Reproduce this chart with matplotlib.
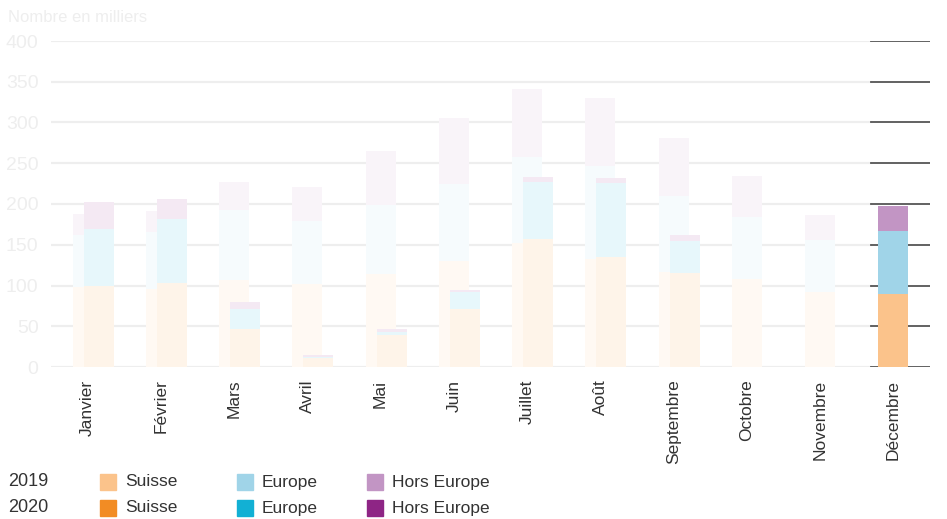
import numpy as np
import matplotlib
matplotlib.use('Agg')
import matplotlib.pyplot as plt
from matplotlib.patches import Rectangle

plt.rcParams['font.family'] = ['Liberation Sans', 'DejaVu Sans']

months = ['Janvier', 'Février', 'Mars', 'Avril', 'Mai', 'Juin', 'Juillet',
          'Août', 'Septembre', 'Octobre', 'Novembre', 'Décembre']

# nuitées en milliers, par provenance
suisse_2019 = [98, 96, 107, 102, 114, 130, 152, 132, 117, 108, 92, 90]
europe_2019 = [64, 70, 86, 77, 85, 94, 106, 115, 93, 76, 64, 77]
hors_2019 = [26, 25, 34, 42, 66, 81, 83, 83, 71, 50, 30, 30]

suisse_2020 = [99, 103, 47, 11, 39, 71, 157, 135, 115, np.nan, np.nan, np.nan]
europe_2020 = [70, 78, 24, 1, 4, 21, 70, 91, 40, np.nan, np.nan, np.nan]
hors_2020 = [33, 25, 9, 3, 4, 3, 6, 6, 7, np.nan, np.nan, np.nan]

yticks = [0, 50, 100, 150, 200, 250, 300, 350, 400]

col_2019 = ['#fbc38b', '#a0d4e8', '#c295c4']
col_2020 = ['#f28c24', '#12b0d4', '#8e2585']
highlight = 11  # Décembre mis en avant


def fade(c, a=0.1):
    rgb = np.array(matplotlib.colors.to_rgb(c))
    return tuple(1 - a * (1 - rgb))


fig = plt.figure(figsize=(9.47, 5.19), dpi=100)
ax = fig.add_axes([51 / 947, 152 / 519, 879 / 947, 326 / 519])

x = np.arange(len(months))
w = 0.41
off = 0.15

# grille
for t in yticks:
    ax.plot([-0.5, 10.69], [t, t], color='#eeeeee', lw=1.6, zorder=0)
    ax.plot([10.69, 11.5], [t, t], color='#555555', lw=1.3, zorder=0)

# 2019
bottom = np.zeros(len(months))
for vals, c in zip([suisse_2019, europe_2019, hors_2019], col_2019):
    vals = np.array(vals, dtype=float)
    colors = [c if i == highlight else fade(c) for i in range(len(months))]
    ax.bar(x, vals, w, bottom=bottom, color=colors, zorder=2)
    bottom += vals

# 2020
bottom = np.zeros(len(months))
for vals, c in zip([suisse_2020, europe_2020, hors_2020], col_2020):
    vals = np.array(vals, dtype=float)
    colors = [c if i == highlight else fade(c) for i in range(len(months))]
    ax.bar(x + off, np.nan_to_num(vals), w, bottom=bottom, color=colors, zorder=3)
    bottom += np.nan_to_num(vals)

ax.set_xlim(-0.5, 11.5)
ax.set_ylim(0, 400)
for s in ax.spines.values():
    s.set_visible(False)

ax.set_yticks(yticks)
ax.set_yticklabels([str(t) for t in yticks], fontsize=14, color='#eeeeee')
ax.tick_params(axis='y', length=0, pad=9)
ax.set_xticks(x)
ax.set_xticklabels(months, rotation=90, fontsize=12.5, color='#333333', va='top')
ax.tick_params(axis='x', length=0, pad=9)

fig.text(8 / 947, 1 - 17 / 519, 'Nombre en milliers', fontsize=12,
         color='#eeeeee', va='center', ha='left')

# légende
rows = [('2019', col_2019, 1 - 482 / 519), ('2020', col_2020, 1 - 508 / 519)]
labels = ['Suisse', 'Europe', 'Hors Europe']
sw_x = [100, 237, 367]
for year, cols, yy in rows:
    fig.text(8 / 947, yy, year, fontsize=13, color='#333333', va='center')
    for sx, c, lab in zip(sw_x, cols, labels):
        fig.patches.append(Rectangle((sx / 947, yy - 8 / 519), 16 / 947, 16 / 519,
                                     transform=fig.transFigure, color=c))
        fig.text((sx + 25) / 947, yy, lab, fontsize=12.5, color='#333333', va='center')

fig.savefig('out.png', dpi=100)
